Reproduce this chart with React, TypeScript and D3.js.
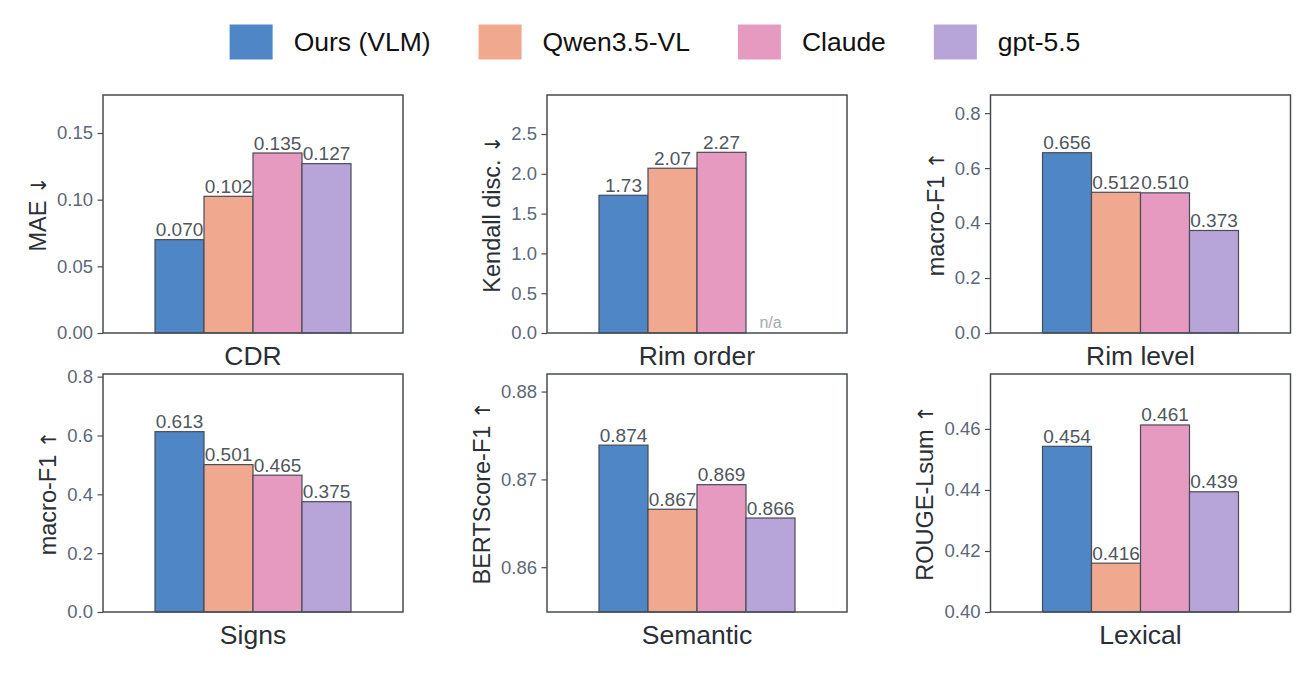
import { useRef, useEffect } from "react";
import * as d3 from "d3";

const series = ["Ours (VLM)", "Qwen3.5-VL", "Claude", "gpt-5.5"];
const colors = ["#4e86c6", "#f0a98e", "#e69abf", "#b7a5d9"];

const panelNames = ["CDR", "Rim order", "Rim level", "Signs", "Semantic", "Lexical"];
const yLabels = ["MAE ↓", "Kendall disc. ↓", "macro-F1 ↑", "macro-F1 ↑", "BERTScore-F1 ↑", "ROUGE-Lsum ↑"];

const cdrValues = [0.07, 0.1025, 0.135, 0.127];
const rimOrderValues = [1.73, 2.07, 2.27, null];
const rimLevelValues = [0.656, 0.512, 0.51, 0.373];
const signsValues = [0.613, 0.501, 0.465, 0.375];
const semanticValues = [0.8739, 0.8666, 0.8694, 0.8656];
const lexicalValues = [0.4543, 0.416, 0.4613, 0.4394];

const yDomains: [number, number][] = [
  [0, 0.1785],
  [0, 2.99],
  [0, 0.866],
  [0, 0.809],
  [0.8549, 0.882],
  [0.4, 0.478],
];
const yTicks = [
  [0, 0.05, 0.1, 0.15],
  [0, 0.5, 1, 1.5, 2, 2.5],
  [0, 0.2, 0.4, 0.6, 0.8],
  [0, 0.2, 0.4, 0.6, 0.8],
  [0.86, 0.87, 0.88],
  [0.4, 0.42, 0.44, 0.46],
];
const tickFormats = [".2f", ".1f", ".1f", ".1f", ".2f", ".2f"];
const valueFormats = [".3f", ".2f", ".3f", ".3f", ".3f", ".3f"];

const FONT = "'Liberation Sans', Arial, 'DejaVu Sans', sans-serif";

function App() {
  const ref = useRef<SVGSVGElement | null>(null);

  useEffect(() => {
    if (!ref.current) return;
    const svg = d3.select(ref.current).html("");
    svg.style("font-family", FONT);

    const allValues = [cdrValues, rimOrderValues, rimLevelValues, signsValues, semanticValues, lexicalValues];
    const colLeft = [103, 547, 990.5];
    const rowTop = [95, 374];
    const pw = 300;
    const ph = 238;

    allValues.forEach((vals, p) => {
      const left = colLeft[p % 3];
      const top = rowTop[Math.floor(p / 3)];
      const g = svg.append("g").attr("transform", `translate(${left},${top})`);

      const y = d3.scaleLinear().domain(yDomains[p]).range([ph, 0]);
      const x = d3
        .scaleBand<string>()
        .domain(series)
        .range([pw / 2 - 98, pw / 2 + 98])
        .padding(0);

      // bars
      series.forEach((s, i) => {
        const v = vals[i];
        if (v == null) return;
        g.append("rect")
          .attr("x", x(s)!)
          .attr("y", y(v))
          .attr("width", x.bandwidth())
          .attr("height", ph - y(v))
          .attr("fill", colors[i])
          .attr("stroke", "#474c55")
          .attr("stroke-width", 1.2);
      });

      // value labels
      series.forEach((s, i) => {
        const v = vals[i];
        const cx = x(s)! + x.bandwidth() / 2;
        if (v == null) {
          g.append("text")
            .attr("x", cx)
            .attr("y", ph - 5)
            .attr("text-anchor", "middle")
            .attr("font-size", 16)
            .attr("fill", "#a4aab2")
            .text("n/a");
          return;
        }
        g.append("text")
          .attr("x", cx)
          .attr("y", y(v) - 3.5)
          .attr("text-anchor", "middle")
          .attr("font-size", 19)
          .attr("fill", "#50565d")
          .text(d3.format(valueFormats[p])(v));
      });

      // y axis
      const ax = g
        .append("g")
        .call(
          d3
            .axisLeft(y)
            .tickValues(yTicks[p])
            .tickFormat((d: any) => d3.format(tickFormats[p])(d))
            .tickSize(5.5)
            .tickPadding(4.5)
        );
      ax.select(".domain").remove();
      ax.selectAll("line").attr("stroke", "#474c53").attr("stroke-width", 1.2);
      ax.selectAll("text")
        .attr("font-size", 18.5)
        .attr("fill", "#5d6778")
        .style("font-family", FONT);

      let minX = 0;
      ax.selectAll<SVGTextElement, unknown>("text").each(function () {
        const b = this.getBBox();
        minX = Math.min(minX, b.x);
      });

      // frame
      g.append("rect")
        .attr("width", pw)
        .attr("height", ph)
        .attr("fill", "none")
        .attr("stroke", "#474c53")
        .attr("stroke-width", 1.5);

      // y label (arrow drawn with DejaVu for a fuller glyph)
      const label = yLabels[p];
      const arrow = label.slice(-1);
      const yl = g
        .append("text")
        .attr("transform", `translate(${minX - 11},${ph / 2}) rotate(-90)`)
        .attr("text-anchor", "middle")
        .attr("font-size", 23.5)
        .attr("fill", "#2b2f35");
      yl.append("tspan").text(label.slice(0, -1));
      yl.append("tspan").style("font-family", "'DejaVu Sans'").attr("font-size", 21).text(arrow);

      // category label
      g.append("text")
        .attr("x", pw / 2)
        .attr("y", ph + 32)
        .attr("text-anchor", "middle")
        .attr("font-size", 26.5)
        .attr("fill", "#2b2f35")
        .text(panelNames[p]);
    });

    // legend
    const lg = svg.append("g");
    let cursor = 0;
    series.forEach((s, i) => {
      const item = lg.append("g").attr("transform", `translate(${cursor},0)`);
      item.append("rect")
        .attr("x", 0)
        .attr("y", 24.5)
        .attr("width", 43)
        .attr("height", 35)
        .attr("fill", colors[i]);
      const t = item
        .append("text")
        .attr("x", 64)
        .attr("y", 51)
        .attr("font-size", 26.5)
        .attr("fill", "#111")
        .text(s);
      const w = (t.node() as SVGTextElement).getComputedTextLength();
      cursor += 64 + w + 48;
    });
    const total = cursor - 48;
    lg.attr("transform", `translate(${655 - total / 2},0)`);
  }, []);

  return (
    <svg
      ref={ref}
      width={1316}
      height={674}
      style={{ position: "absolute", left: 0, top: 0, background: "#fff" }}
    ></svg>
  );
}

export default App;
